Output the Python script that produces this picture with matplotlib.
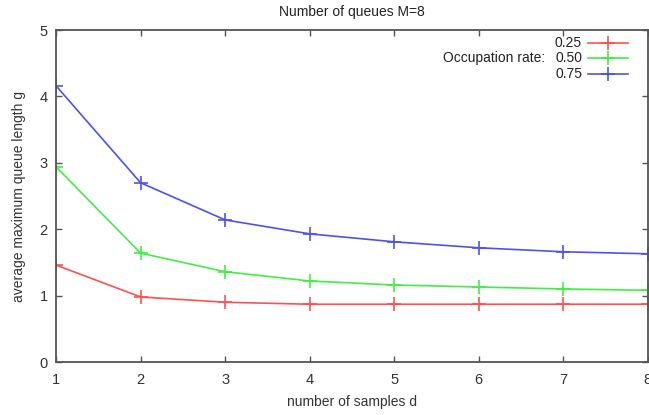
import matplotlib
matplotlib.use("Agg")
import matplotlib.pyplot as plt
from matplotlib.lines import Line2D

plt.rcParams['font.family'] = ['Liberation Sans', 'DejaVu Sans']

d = [1, 2, 3, 4, 5, 6, 7, 8]
rates = ["0.25", "0.50", "0.75"]
g_025 = [1.46, 0.98, 0.90, 0.87, 0.87, 0.87, 0.87, 0.87]
g_050 = [2.94, 1.64, 1.36, 1.22, 1.16, 1.13, 1.10, 1.08]
g_075 = [4.16, 2.70, 2.14, 1.93, 1.81, 1.72, 1.66, 1.63]
colors = ["#ff5050", "#40f040", "#5050f0"]
yticks = [0, 1, 2, 3, 4, 5]

fig = plt.figure(figsize=(6.49, 4.15), dpi=100)
ax = fig.add_axes([0.0863, 0.1277, 0.912, 0.80])

for vals, c in zip([g_025, g_050, g_075], colors):
    ax.plot(d, vals, color=c, lw=1.2, marker='+', markersize=10, mew=1.2)

ax.set_xlim(1, 8)
ax.set_ylim(0, 5)
ax.set_xticks(d)
ax.set_yticks(yticks)
ax.tick_params(direction='in', length=4, width=1, color='#555555',
               top=True, right=True, labelsize=10.5, labelcolor='#333333')
ax.tick_params(axis='x', pad=8)
ax.tick_params(axis='y', pad=6)
for s in ax.spines.values():
    s.set_color('#555555')
    s.set_linewidth(1.3)

ax.set_xlabel("number of samples d", fontsize=10, color='#333333', labelpad=6)
ax.set_ylabel("average maximum queue length g", fontsize=10, color='#333333', labelpad=10)
ax.set_title("Number of queues M=8", fontsize=10, color='#222222', pad=10)

# legend in gnuplot style
ys = [43, 58, 74]
for r, c, yp in zip(rates, colors, ys):
    yf = 1 - yp / 415
    fig.text(582 / 649, yf, r, ha='right', va='center', fontsize=10, color='#222222')
    fig.add_artist(Line2D([588 / 649, 628 / 649], [yf, yf], color=c, lw=1.2,
                          transform=fig.transFigure))
    fig.add_artist(Line2D([608 / 649], [yf], color=c, marker='+', markersize=10, mew=1.2,
                          transform=fig.transFigure))
fig.text(545 / 649, 1 - 58 / 415, "Occupation rate:", ha='right', va='center',
         fontsize=10, color='#222222')

fig.savefig("out.png", dpi=100)
